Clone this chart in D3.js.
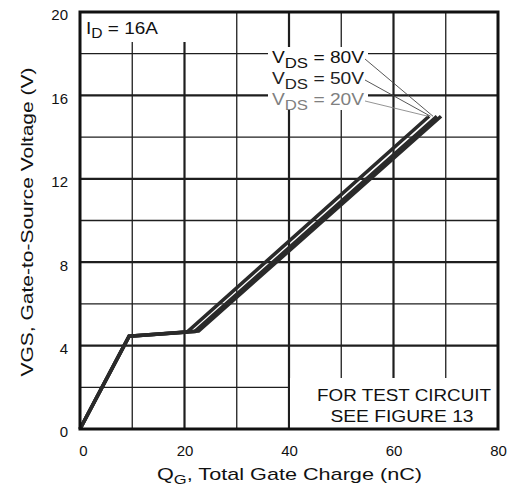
<!DOCTYPE html>
<html>
<head>
<meta charset="utf-8">
<script src="https://cdn.jsdelivr.net/npm/d3@7"></script>
<style>
  body { margin: 0; background: #fff; }
  svg { display: block; font-family: Arial, "Liberation Sans", Helvetica, sans-serif; }
</style>
</head>
<body>
<svg id="chart" width="517" height="487"></svg>
<script>
// gate charge curves
var qgTicks = [0, 20, 40, 60, 80];
var vgsTicks = [0, 4, 8, 12, 16, 20];
var seriesLabels = ["80V", "50V", "20V"];
var qg80 = [0, 9.4, 22.7, 69.1];
var vgs80 = [0, 4.45, 4.7, 15];
var qg50 = [0, 9.4, 22.0, 68.3];
var vgs50 = [0, 4.45, 4.68, 15];
var qg20 = [0, 9.4, 20.5, 66.8];
var vgs20 = [0, 4.45, 4.65, 15];

// set the dimensions of the plot area
var margin = {top: 12, right: 19, bottom: 58, left: 80},
    W = 517, H = 487,
    width = W - margin.left - margin.right,
    height = H - margin.top - margin.bottom;

var x = d3.scaleLinear().domain([0, 80]).range([margin.left, margin.left + width]);
var y = d3.scaleLinear().domain([0, 20]).range([margin.top + height, margin.top]);

var svg = d3.select("#chart");
var ink = "#1e1e1e";

// grid, bold on the labelled ticks
var g = svg.append("g");
g.selectAll("line.vx")
  .data(d3.range(10, 80, 10))
  .enter().append("line")
    .attr("x1", d => x(d)).attr("x2", d => x(d))
    .attr("y1", y(0)).attr("y2", y(20))
    .attr("stroke", ink)
    .attr("stroke-width", d => d % 20 === 0 ? 2.2 : 1.3);
g.selectAll("line.hy")
  .data(d3.range(2, 20, 2))
  .enter().append("line")
    .attr("x1", x(0)).attr("x2", x(80))
    .attr("y1", d => y(d)).attr("y2", d => y(d))
    .attr("stroke", ink)
    .attr("stroke-width", d => d % 4 === 0 ? 2.2 : 1.3);

// white boxes behind the notes
svg.append("rect")
   .attr("x", x(0)).attr("y", y(20))
   .attr("width", 148).attr("height", 30)
   .attr("fill", "#fff");
svg.append("rect")
   .attr("x", 268).attr("y", 47)
   .attr("width", 100).attr("height", 63)
   .attr("fill", "#fff");
svg.append("rect")
   .attr("x", x(40) + 1).attr("y", y(0) - 51)
   .attr("width", x(80) - x(40) - 1).attr("height", 51)
   .attr("fill", "#fff");

// curves
var line = d3.line()
    .x(d => x(d[0]))
    .y(d => y(d[1]));

var curves = [
  d3.zip(qg80, vgs80),
  d3.zip(qg50, vgs50),
  d3.zip(qg20, vgs20)
];
svg.selectAll("path.curve")
  .data(curves)
  .enter().append("path")
    .attr("class", "curve")
    .attr("d", line)
    .attr("fill", "none")
    .attr("stroke", "#2a2a2a")
    .attr("stroke-width", 3.6)
    .attr("stroke-linejoin", "miter");

// frame
svg.append("rect")
   .attr("x", x(0)).attr("y", y(20))
   .attr("width", x(80) - x(0)).attr("height", y(0) - y(20))
   .attr("fill", "none")
   .attr("stroke", "#111")
   .attr("stroke-width", 3);

// VDS labels with leader lines to the curve ends
var labelBase = [63, 84, 105];
var labelColor = ["#111", "#222", "#808080"];
var endQ = qg20[qg20.length - 1];
seriesLabels.forEach(function(lab, i) {
  var t = svg.append("text")
     .attr("x", 272).attr("y", labelBase[i])
     .attr("font-size", 16)
     .attr("fill", labelColor[i])
     .attr("textLength", 92)
     .attr("lengthAdjust", "spacingAndGlyphs");
  t.append("tspan").text("V");
  t.append("tspan").attr("dy", 5).attr("font-size", 14).text("DS");
  t.append("tspan").attr("dy", -5).text(" = " + lab);

  svg.append("line")
     .attr("x1", 365).attr("y1", labelBase[i] - 4)
     .attr("x2", x(endQ) + 4 - 2.5 * i).attr("y2", y(15))
     .attr("stroke", i === 2 ? "#888" : "#444")
     .attr("stroke-width", 0.9);
});

// ID note
var id = svg.append("text")
   .attr("x", 86).attr("y", 34)
   .attr("font-size", 17)
   .attr("fill", "#111")
   .attr("textLength", 72)
   .attr("lengthAdjust", "spacingAndGlyphs");
id.append("tspan").text("I");
id.append("tspan").attr("dy", 4).attr("font-size", 14).text("D");
id.append("tspan").attr("dy", -4).text(" = 16A");

// test circuit note
svg.append("text")
   .attr("x", 404).attr("y", 401)
   .attr("text-anchor", "middle")
   .attr("font-size", 16)
   .attr("fill", "#111")
   .attr("textLength", 174)
   .attr("lengthAdjust", "spacingAndGlyphs")
   .text("FOR TEST CIRCUIT");
svg.append("text")
   .attr("x", 402).attr("y", 422)
   .attr("text-anchor", "middle")
   .attr("font-size", 16)
   .attr("fill", "#111")
   .attr("textLength", 143)
   .attr("lengthAdjust", "spacingAndGlyphs")
   .text("SEE FIGURE 13");

// tick labels
svg.append("g")
   .attr("transform", "translate(0," + (y(0) + 16) + ")")
   .call(d3.axisBottom(x).tickValues(qgTicks).tickSize(0).tickPadding(0))
   .call(a => a.select(".domain").remove())
   .selectAll("text")
     .attr("font-size", 15)
     .attr("font-family", null)
     .attr("fill", "#111")
     .attr("dx", d => d === 0 ? 3 : 0);

svg.append("g")
   .attr("transform", "translate(" + (x(0) - 12) + ",3)")
   .call(d3.axisLeft(y).tickValues(vgsTicks).tickSize(0).tickPadding(0))
   .call(a => a.select(".domain").remove())
   .selectAll("text")
     .attr("font-size", 15)
     .attr("font-family", null)
     .attr("fill", "#111");

// axis titles
var xt = svg.append("text")
   .attr("x", 157).attr("y", 480)
   .attr("font-size", 17)
   .attr("fill", "#111")
   .attr("textLength", 265)
   .attr("lengthAdjust", "spacingAndGlyphs");
xt.append("tspan").text("Q");
xt.append("tspan").attr("dy", 4).attr("font-size", 13).text("G");
xt.append("tspan").attr("dy", -4).text(", Total Gate Charge (nC)");

svg.append("text")
   .attr("transform", "translate(33,222) rotate(-90)")
   .attr("text-anchor", "middle")
   .attr("font-size", 17)
   .attr("fill", "#111")
   .attr("textLength", 309)
   .attr("lengthAdjust", "spacingAndGlyphs")
   .text("VGS, Gate-to-Source Voltage (V)");
</script>
</body>
</html>
